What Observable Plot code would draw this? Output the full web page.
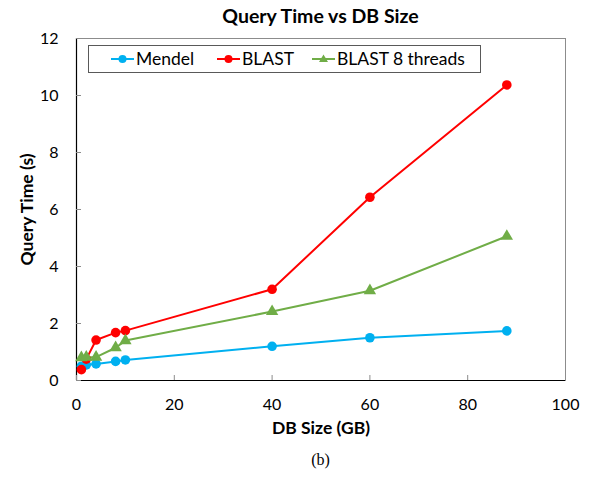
<!DOCTYPE html>
<html>
<head>
<meta charset="utf-8">
<script src="https://cdn.jsdelivr.net/npm/d3@7"></script>
<script src="https://cdn.jsdelivr.net/npm/@observablehq/plot@0.6"></script>
<style>
  html, body { margin: 0; padding: 0; background: #fff; }
  #wrap { position: relative; width: 592px; height: 480px; font-family: Lato, "Open Sans", sans-serif; }
  #title { position: absolute; left: 76px; width: 489px; top: 4px; text-align: center; font-weight: bold; font-size: 19.5px; color: #000; }
  #legend { position: absolute; left: 88px; top: 45px; width: 393px; height: 28px; border: 1px solid #595959; background: #fff; font-size: 17.5px; color: #000; box-sizing: border-box; }
  #legend .item { display: flex; align-items: center; position: absolute; top: 1px; }
  #legend svg { margin-right: 1px; }
  #caption { position: absolute; left: 76px; width: 489px; top: 451px; text-align: center; font-family: "Liberation Serif", "DejaVu Serif", serif; font-size: 16px; color: #000; }
  #chart { position: absolute; left: 0; top: 0; }
</style>
</head>
<body>
<div id="wrap">
  <div id="chart"></div>
  <div id="title"></div>
  <div id="legend"></div>
  <div id="caption"></div>
</div>
<script>
// ---- data ----
const dbSizes = [1, 2, 4, 8, 10, 40, 60, 88];
const mendel  = [0.50, 0.55, 0.58, 0.67, 0.72, 1.20, 1.50, 1.74];
const blast   = [0.38, 0.75, 1.42, 1.68, 1.75, 3.20, 6.43, 10.37];
const blast8  = [0.80, 0.82, 0.82, 1.15, 1.40, 2.42, 3.15, 5.06];
const seriesNames = ["Mendel", "BLAST", "BLAST 8 threads"];
const seriesColors = ["#00B0F0", "#FF0000", "#70AD47"];
const seriesSymbols = ["circle", "circle", "triangle"];
const xTicks = [0, 20, 40, 60, 80, 100];
const yTicks = [0, 2, 4, 6, 8, 10, 12];
const titleText = "Query Time vs DB Size";
const xLabel = "DB Size (GB)";
const yLabel = "Query Time (s)";
const captionText = "(b)";

const seriesValues = [mendel, blast, blast8];
const rows = seriesValues.flatMap((vals, i) =>
  vals.map((v, j) => ({series: seriesNames[i], size: dbSizes[j], time: v})));

const colorOf = name => seriesColors[seriesNames.indexOf(name)];

const marks = [
  Plot.frame({stroke: "#8c8c8c"}),
  Plot.ruleX([0], {stroke: "#000", strokeWidth: 1.2}),
  Plot.ruleY([0], {stroke: "#000", strokeWidth: 1.2}),
  Plot.axisX({ticks: xTicks, tickSize: -5, tickPadding: 23, stroke: "#8c8c8c", fill: "#000", label: null, fontSize: 16}),
  Plot.axisY({ticks: yTicks, tickSize: -5, tickPadding: 23, stroke: "#8c8c8c", fill: "#000", label: null, fontSize: 16}),
  Plot.text([xLabel], {frameAnchor: "bottom", dy: 53, textAnchor: "middle", fontWeight: "bold", fontSize: 17.5, fill: "#000"}),
  Plot.text([yLabel], {frameAnchor: "left", dx: -49, textAnchor: "middle", rotate: -90, fontWeight: "bold", fontSize: 17.5, fill: "#000"}),
];
seriesNames.forEach(name => {
  marks.push(Plot.line(rows.filter(d => d.series === name), {x: "size", y: "time", stroke: colorOf(name), strokeWidth: 2}));
});
seriesNames.forEach((name, i) => {
  marks.push(Plot.dot(rows.filter(d => d.series === name), {
    x: "size", y: "time", fill: colorOf(name), stroke: "none",
    symbol: seriesSymbols[i], r: seriesSymbols[i] === "triangle" ? 4.6 : 4.8
  }));
});

const chart = Plot.plot({
  width: 592,
  height: 480,
  marginTop: 38,
  marginBottom: 100,
  marginLeft: 76,
  marginRight: 27,
  style: {fontFamily: "Lato, 'Open Sans', sans-serif", fontSize: "16px", background: "#fff", color: "#000"},
  x: {domain: [0, 100]},
  y: {domain: [0, 12]},
  marks
});
document.getElementById("chart").appendChild(chart);

document.getElementById("title").textContent = titleText;
document.getElementById("caption").textContent = captionText;

// legend
const legend = document.getElementById("legend");
const legendLeft = [22, 128, 223];
seriesNames.forEach((name, i) => {
  const item = document.createElement("div");
  item.className = "item";
  item.style.left = legendLeft[i] + "px";
  const ns = "http://www.w3.org/2000/svg";
  const s = document.createElementNS(ns, "svg");
  s.setAttribute("width", 24); s.setAttribute("height", 22);
  const ln = document.createElementNS(ns, "line");
  ln.setAttribute("x1", 0); ln.setAttribute("x2", 23); ln.setAttribute("y1", 12); ln.setAttribute("y2", 12);
  ln.setAttribute("stroke", seriesColors[i]); ln.setAttribute("stroke-width", 2);
  s.appendChild(ln);
  if (seriesSymbols[i] === "triangle") {
    const p = document.createElementNS(ns, "path");
    p.setAttribute("d", "M11.5,7.5 L16,15 L7,15 Z");
    p.setAttribute("fill", seriesColors[i]);
    s.appendChild(p);
  } else {
    const c = document.createElementNS(ns, "circle");
    c.setAttribute("cx", 11.5); c.setAttribute("cy", 12); c.setAttribute("r", 4);
    c.setAttribute("fill", seriesColors[i]);
    s.appendChild(c);
  }
  item.appendChild(s);
  const t = document.createElement("span");
  t.textContent = name;
  item.appendChild(t);
  legend.appendChild(item);
});
</script>
</body>
</html>
